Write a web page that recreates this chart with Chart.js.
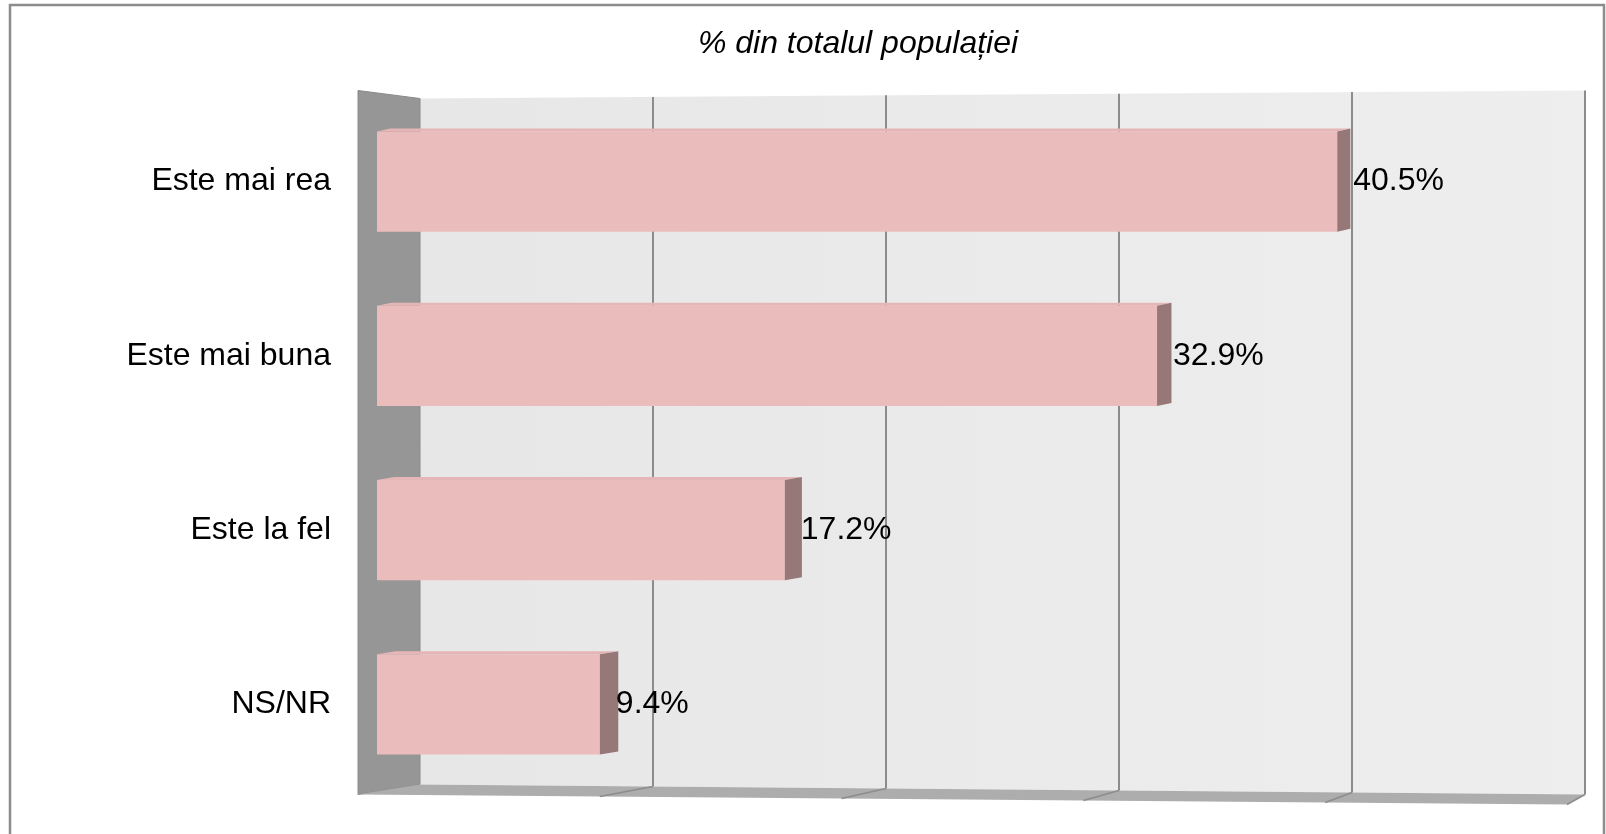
<!DOCTYPE html>
<html>
<head>
<meta charset="utf-8">
<title>% din totalul populației</title>
<script src="https://cdn.jsdelivr.net/npm/chart.js@4/dist/chart.umd.min.js"></script>
<style>
    html, body { margin: 0; padding: 0; background: #ffffff; }
    #wrap { width: 1606px; height: 834px; }
</style>
</head>
<body>
<div id="wrap"><canvas id="opinionChart" width="1606" height="834"></canvas></div>
<script>
var categories = ['Este mai rea', 'Este mai buna', 'Este la fel', 'NS/NR'];
var values = [40.5, 32.9, 17.2, 9.4];
var gridValues = [0, 10, 20, 30, 40, 50];
var chartTitle = '% din totalul populației';

var fontFamily = "'Liberation Sans', Arial, sans-serif";

// Excel style 3D box: left wall, back wall with grid lines and floor
var wallsPlugin = {
    id: 'walls',
    beforeDatasetsDraw: function (chart) {
        var ctx = chart.ctx;
        var ca = chart.chartArea;
        var xs = chart.scales.x;
        var x0 = xs.getPixelForValue(0);

        function backX(v) {
            return x0 + 43 + (xs.getPixelForValue(v) - x0) * 0.9827;
        }
        function frontX(v) {
            return (ca.left - 19) + (v / 50) * (1567 - (ca.left - 19));
        }
        var bl = backX(0), br = backX(50);
        function topAt(x) {
            return ca.top + 4 - 8 * (x - bl) / (br - bl);
        }
        function bottomAt(x) {
            return ca.bottom - 7 + 10 * (x - bl) / (br - bl);
        }
        var fl = frontX(0), fr = frontX(50);
        function frontY(x) {
            return ca.bottom + 3 + 10 * (x - fl) / (fr - fl);
        }

        ctx.save();

        // back wall
        var grad = ctx.createLinearGradient(bl, 0, br, 0);
        grad.addColorStop(0, '#e7e7e7');
        grad.addColorStop(1, '#eeeeee');
        ctx.fillStyle = grad;
        ctx.beginPath();
        ctx.moveTo(bl, topAt(bl));
        ctx.lineTo(br, topAt(br));
        ctx.lineTo(br, bottomAt(br));
        ctx.lineTo(bl, bottomAt(bl));
        ctx.closePath();
        ctx.fill();

        // left wall
        ctx.fillStyle = '#969696';
        ctx.beginPath();
        ctx.moveTo(fl, ca.top - 4);
        ctx.lineTo(bl, topAt(bl));
        ctx.lineTo(bl, bottomAt(bl));
        ctx.lineTo(fl, frontY(fl));
        ctx.closePath();
        ctx.fill();
        ctx.strokeStyle = '#8a8a8a';
        ctx.lineWidth = 1;
        ctx.stroke();

        // floor
        ctx.fillStyle = '#adadad';
        ctx.beginPath();
        ctx.moveTo(bl, bottomAt(bl));
        ctx.lineTo(br, bottomAt(br));
        ctx.lineTo(fr, frontY(fr));
        ctx.lineTo(fl, frontY(fl));
        ctx.closePath();
        ctx.fill();

        // grid lines on the back wall and their ticks on the floor
        ctx.strokeStyle = '#8c8c8c';
        gridValues.forEach(function (v) {
            if (v === 0) {
                return;
            }
            var bx = backX(v);
            ctx.lineWidth = 2;
            ctx.beginPath();
            ctx.moveTo(bx, topAt(bx));
            ctx.lineTo(bx, bottomAt(bx));
            ctx.stroke();
            var fx = frontX(v);
            ctx.lineWidth = 1.5;
            ctx.beginPath();
            ctx.moveTo(bx, bottomAt(bx));
            ctx.lineTo(fx, frontY(fx));
            ctx.stroke();
        });
        ctx.restore();
    },
    afterDatasetsDraw: function (chart) {
        var ctx = chart.ctx;
        var meta = chart.getDatasetMeta(0);
        ctx.save();
        meta.data.forEach(function (bar, i) {
            var v = values[i];
            var half = bar.height / 2;
            var top = bar.y - half;
            var bottom = bar.y + half;
            var depth = 20 - v * 0.17;

            // thin top face
            ctx.fillStyle = '#e6b6b6';
            ctx.beginPath();
            ctx.moveTo(bar.base, top);
            ctx.lineTo(bar.base + depth, top - 3);
            ctx.lineTo(bar.x + depth, top - 3);
            ctx.lineTo(bar.x, top);
            ctx.closePath();
            ctx.fill();

            // side face
            ctx.fillStyle = '#967878';
            ctx.beginPath();
            ctx.moveTo(bar.x, top);
            ctx.lineTo(bar.x + depth, top - 3);
            ctx.lineTo(bar.x + depth, bottom - 3);
            ctx.lineTo(bar.x, bottom);
            ctx.closePath();
            ctx.fill();

            // value label
            ctx.fillStyle = '#000000';
            ctx.font = '32px ' + fontFamily;
            ctx.textAlign = 'left';
            ctx.textBaseline = 'middle';
            ctx.fillText(v.toFixed(1) + '%', bar.x + 16, bar.y);
        });
        ctx.restore();
    },
    afterDraw: function (chart) {
        var ctx = chart.ctx;
        ctx.save();
        // title, centred over the plot like in the original
        ctx.fillStyle = '#000000';
        ctx.font = 'italic 32px ' + fontFamily;
        ctx.textAlign = 'center';
        ctx.textBaseline = 'middle';
        ctx.fillText(chartTitle, 858, 44);

        ctx.strokeStyle = '#8c8c8c';
        ctx.lineWidth = 2.5;
        ctx.strokeRect(10, 5, 1594, 860);
        ctx.restore();
    }
};

var ctxOpinion = document.getElementById('opinionChart').getContext('2d');
var opinionChart = new Chart(ctxOpinion, {
    type: 'bar',
    data: {
        labels: categories,
        datasets: [{
            label: chartTitle,
            data: values,
            backgroundColor: '#ebbcbc',
            borderWidth: 0,
            barPercentage: 0.575,
            categoryPercentage: 1
        }]
    },
    options: {
        indexAxis: 'y',
        responsive: false,
        animation: false,
        layout: {
            padding: { left: 0, right: 43.5, top: 94.5, bottom: 42.5 }
        },
        plugins: {
            legend: { display: false },
            tooltip: { enabled: false },
            title: { display: false }
        },
        scales: {
            x: {
                display: false,
                min: 0,
                max: 50
            },
            y: {
                grid: { display: false, drawTicks: false },
                border: { display: false },
                ticks: {
                    color: '#000000',
                    padding: 46,
                    font: { family: fontFamily, size: 32 }
                },
                afterFit: function (scale) {
                    // keep the label padding from eating into the plot height
                    scale.width = 377;
                    scale.paddingTop = 0;
                    scale.paddingBottom = 0;
                }
            }
        }
    },
    plugins: [wallsPlugin]
});
</script>
</body>
</html>
